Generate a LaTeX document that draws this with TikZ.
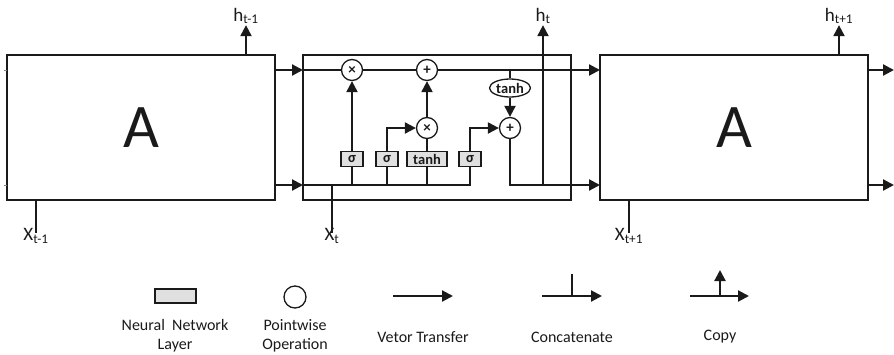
\documentclass[tikz,border=0pt]{standalone}
\usepackage{fontspec}
\setmainfont{Carlito}
\usetikzlibrary{arrows.meta,shapes.geometric}
\definecolor{ink}{HTML}{1A1A1A}
\definecolor{layerfill}{HTML}{E0E0E0}
\begin{document}
\begin{tikzpicture}[x=1pt,y=-1pt,color=ink,
  wire/.style={line width=2.2pt},
  arr/.style={wire,-{Triangle[length=11pt,width=11pt]}},
  cell/.style={draw,line width=1.3pt,minimum width=268pt,minimum height=145pt,inner sep=0pt,font=\fontsize{62}{62}\selectfont},
  op/.style={draw,circle,line width=1.3pt,fill=white,minimum size=21pt,inner sep=0pt,font=\bfseries\fontsize{15}{15}\selectfont},
  layer/.style={draw,line width=1.3pt,fill=layerfill,minimum width=22pt,minimum height=15pt,inner sep=0pt,font=\bfseries\fontsize{14.5}{14.5}\selectfont},
  oval/.style={draw,ellipse,line width=1.3pt,fill=white,minimum width=41pt,minimum height=18pt,inner sep=0pt,font=\bfseries\fontsize{14.5}{14.5}\selectfont},
  lbl/.style={inner sep=0pt,font=\fontsize{19}{19}\selectfont},
  leg/.style={inner sep=0pt,align=center,font=\fontsize{16}{19}\selectfont}]
\useasboundingbox (0,0) rectangle (894,354);

% cells
\node[cell] (L) at (141,127.5) {A};
\node[cell] (M) at (437,127.5) {};
\node[cell] (R) at (734,127.5) {A};

% row coordinates
\coordinate (Lin1) at (4,70);  \coordinate (Lin1e) at (7,70);
\coordinate (Lin2) at (4,185); \coordinate (Lin2e) at (7,185);
\coordinate (Lt) at (275,70);  \coordinate (Lb) at (275,185);
\coordinate (Mt) at (303,70);  \coordinate (Mb) at (303,185);
\coordinate (Rt) at (600,70);  \coordinate (Rb) at (600,185);
\coordinate (Rto) at (868,70); \coordinate (Rbo) at (868,185);
\coordinate (Et) at (894,70);  \coordinate (Eb) at (894,185);

% labels
\node[lbl] (hL) at (246,16) {h\textsubscript{t-1}};
\node[lbl] (hM) at (543,16) {h\textsubscript{t}};
\node[lbl] (hR) at (839,16) {h\textsubscript{t+1}};
\node[lbl] (xL) at (36,236) {X\textsubscript{t-1}};
\node[lbl] (xM) at (332,236) {X\textsubscript{t}};
\node[lbl] (xR) at (629,236) {X\textsubscript{t+1}};

% gates
\node[op] (m1) at (352,70) {×};
\node[op] (a1) at (427,70) {+};
\node[op] (m2) at (427,128) {×};
\node[op] (a2) at (510,128) {+};
\node[oval] (th2) at (510,88) {tanh};
\node[layer] (s1) at (352,159) {σ};
\node[layer] (s2) at (387,159) {σ};
\node[layer,minimum width=40pt] (th) at (427,159) {tanh};
\node[layer] (s3) at (470,159) {σ};

% left cell
\draw[line width=0.8pt,gray] (Lin1) -- (Lin1e);
\draw[line width=0.8pt,gray] (Lin2) -- (Lin2e);
\draw[arr] (L.north -| hL) -- ([yshift=-1pt]hL.south);
\draw[wire] (L.south -| xL) -- ([yshift=-5pt]xL.north);
\draw[arr] (Lt) -- (Mt);
\draw[arr] (Lb) -- (Mb);

% middle cell: cell state
\draw[wire] (Mt) -- (m1);
\draw[wire] (m1) -- (a1);
\draw[arr] (a1) -- (Rt);
\draw[wire] (th2 |- Mt) -- (th2);
\draw[arr] (th2) -- (a2);
% hidden path
\draw[wire] (Mb) -- (s3 |- Mb) -- (s3);
\draw[wire] (s1) -- (s1 |- Mb);
\draw[wire] (s2) -- (s2 |- Mb);
\draw[wire] (th) -- (th |- Mb);
\draw[wire] (xM |- Mb) -- ([yshift=-5pt]xM.north);
\draw[arr] (s1) -- (m1);
\draw[arr] (s2) |- (m2);
\draw[wire] (th) -- (m2);
\draw[arr] (m2) -- (a1);
\draw[arr] (s3) |- (a2);
\draw[arr] (a2) |- (Rb);
\draw[wire] (hM |- Mb) -- ([yshift=4pt]hM |- Mt);
\draw[arr] ([yshift=-5pt]hM |- Mt) -- ([yshift=-1pt]hM.south);

% right cell
\draw[arr] (R.north -| hR) -- ([yshift=-1pt]hR.south);
\draw[wire] (R.south -| xR) -- ([yshift=-5pt]xR.north);
\draw[arr] (Rto) -- (Et);
\draw[arr] (Rbo) -- (Eb);

% legend
\node[draw,line width=1.3pt,fill=layerfill,minimum width=41pt,minimum height=14pt,inner sep=0pt] (kL) at (175.5,296) {};
\node[leg] (kLt) at (175,336) {Neural\ \ Network\\Layer};
\node[draw,circle,line width=1.3pt,minimum size=22pt,inner sep=0pt] (kP) at (295,297) {};
\node[leg] (kPt) at (295,336) {Pointwise\\Operation};
\coordinate (v1) at (393,296); \coordinate (v2) at (453,296);
\draw[arr] (v1) -- (v2);
\node[leg] (kVt) at (423,337) {Vetor Transfer};
\coordinate (c1) at (542,296); \coordinate (c2) at (602,296);
\coordinate (c3) at (572,274); \coordinate (c4) at (572,296);
\draw[arr] (c1) -- (c2);
\draw[wire] (c3) -- (c4);
\node[leg] (kCt) at (572,337) {Concatenate};
\coordinate (p1) at (690,296); \coordinate (p2) at (749,296);
\coordinate (p3) at (720,296); \coordinate (p4) at (720,270);
\draw[arr] (p1) -- (p2);
\draw[arr] (p3) -- (p4);
\node[leg] (kPt2) at (720,337) {Copy};
\end{tikzpicture}
\end{document}
